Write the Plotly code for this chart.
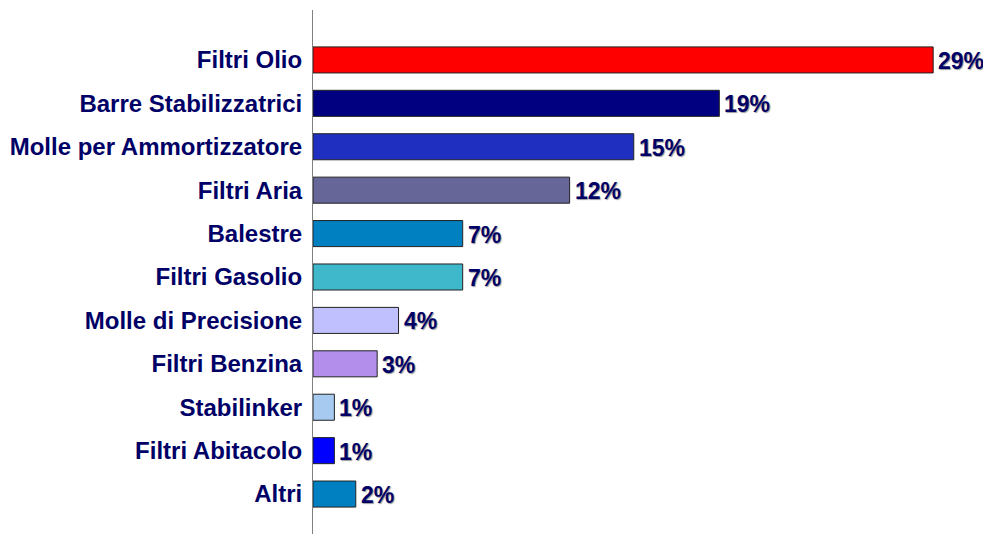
import plotly.graph_objects as go

categories = ["Filtri Olio", "Barre Stabilizzatrici", "Molle per Ammortizzatore", "Filtri Aria",
              "Balestre", "Filtri Gasolio", "Molle di Precisione", "Filtri Benzina",
              "Stabilinker", "Filtri Abitacolo", "Altri"]
values = [29, 19, 15, 12, 7, 7, 4, 3, 1, 1, 2]
labels = ["29%", "19%", "15%", "12%", "7%", "7%", "4%", "3%", "1%", "1%", "2%"]
colors = ["#FF0000", "#000080", "#1F2FBF", "#666699", "#0080C0", "#40B8CC",
          "#C0C0FF", "#B38EEB", "#A6CAF0", "#0000FF", "#0080C0"]

navy = "#000066"
font_family = "Liberation Sans, Arial, sans-serif"

fig = go.Figure(go.Bar(
    x=values, y=categories, orientation="h",
    marker=dict(color=colors, line=dict(color="#222222", width=1)),
    width=0.6,
))

for cat, val, lab in zip(categories, values, labels):
    fig.add_annotation(
        x=val, y=cat, text=lab, showarrow=False,
        xanchor="left", yanchor="middle", xshift=3, yshift=-1,
        font=dict(family=font_family, size=23, color=navy, weight="bold",
                  shadow="1px 1px 1px #999999"),
    )

# the page body adds an 8px margin, so the figure is sized to fit inside the visible area
fig.update_layout(
    width=975, height=526,
    margin=dict(l=305, r=37, t=2, b=0, autoexpand=False),
    plot_bgcolor="white", paper_bgcolor="white",
    showlegend=False,
    bargap=0.4,
)
fig.update_xaxes(range=[0, 29.6], visible=False, showgrid=False, zeroline=False, automargin=False)
fig.update_yaxes(
    categoryorder="array", categoryarray=categories,
    range=[10.92, -1.15], automargin=False,
    showgrid=False, zeroline=False,
    showline=True, linecolor="#808080", linewidth=1,
    ticks="", ticklen=0, ticklabelstandoff=5,
    tickfont=dict(family=font_family, size=24, color=navy, weight="bold"),
)

fig.write_html("out.html")
